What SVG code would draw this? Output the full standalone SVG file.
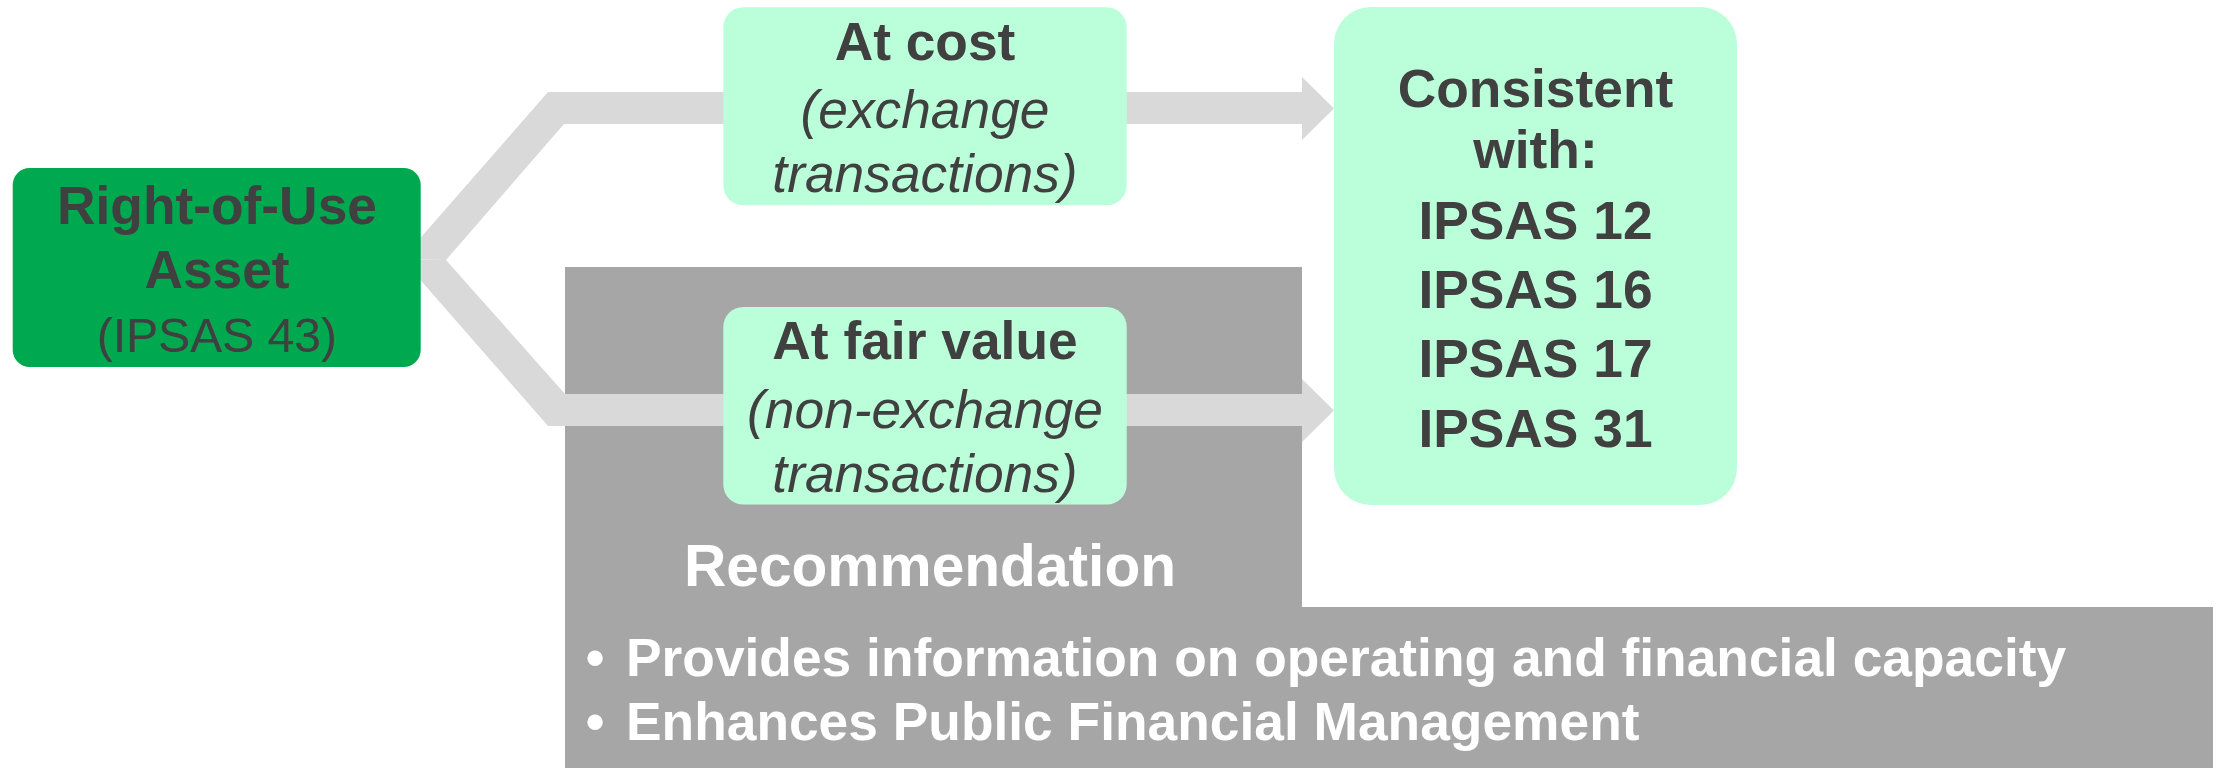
<svg xmlns="http://www.w3.org/2000/svg" width="2229" height="768" viewBox="0 0 2229 768">
  <style>
    text { font-family: "Liberation Sans", Arial, sans-serif; fill: #404040; text-anchor: middle; }
    .b { font-weight: bold; font-size: 53.33px; }
    .i { font-style: italic; font-size: 53.33px; }
    .r { font-size: 48px; }
    .w { fill: #FFFFFF; }
    .lead { text-anchor: start; }
    .mint { fill: #BBFFDA; }
    .band { fill: #D9D9D9; }
    .panel { fill: #A6A6A6; }
  </style>

  <!-- recommendation panel (background) -->
  <g id="recommendation">
    <path class="panel" d="M565,267 H1302 V607 H2213 V768 H565 Z"/>
    <text class="b w" x="930" y="586" style="font-size:58.67px">Recommendation</text>
    <text class="b w" x="595" y="676">•</text>
    <text class="b w lead" x="626" y="676">Provides information on operating and financial capacity</text>
    <text class="b w" x="595" y="740">•</text>
    <text class="b w lead" x="626" y="740">Enhances Public Financial Management</text>
  </g>

  <!-- block arrows branching from the asset -->
  <g id="connectors">
    <path class="band" d="M402,259 L548,92 H1302 V77 L1334,108.5 L1302,140 V124 H564 L446,260 Z"/>
    <path class="band" d="M402,259 L446,260 L565,394 H1302 V379 L1334,410.5 L1302,442 V426 H548 Z"/>
  </g>

  <g id="asset">
    <rect x="12.7" y="168" width="408" height="199" rx="17" fill="#00A950"/>
    <text class="b" x="217" y="224">Right-of-Use</text>
    <text class="b" x="217" y="288">Asset</text>
    <text class="r" x="217" y="352">(IPSAS 43)</text>
  </g>

  <g id="at-cost">
    <rect class="mint" x="723.3" y="7.3" width="403.4" height="198" rx="20"/>
    <text class="b" x="925" y="60">At cost</text>
    <text class="i" x="925" y="128">(exchange</text>
    <text class="i" x="925" y="192">transactions)</text>
  </g>

  <g id="at-fair-value">
    <rect class="mint" x="723.3" y="307" width="403.4" height="197.5" rx="20"/>
    <text class="b" x="925" y="359">At fair value</text>
    <text class="i" x="925" y="428">(non-exchange</text>
    <text class="i" x="925" y="492">transactions)</text>
  </g>

  <g id="consistent">
    <rect class="mint" x="1334" y="7" width="403" height="498" rx="37"/>
    <text class="b" x="1535.5" y="107">Consistent</text>
    <text class="b" x="1535.5" y="168">with:</text>
    <text class="b" x="1535.5" y="239">IPSAS 12</text>
    <text class="b" x="1535.5" y="308">IPSAS 16</text>
    <text class="b" x="1535.5" y="377">IPSAS 17</text>
    <text class="b" x="1535.5" y="447">IPSAS 31</text>
  </g>
</svg>
